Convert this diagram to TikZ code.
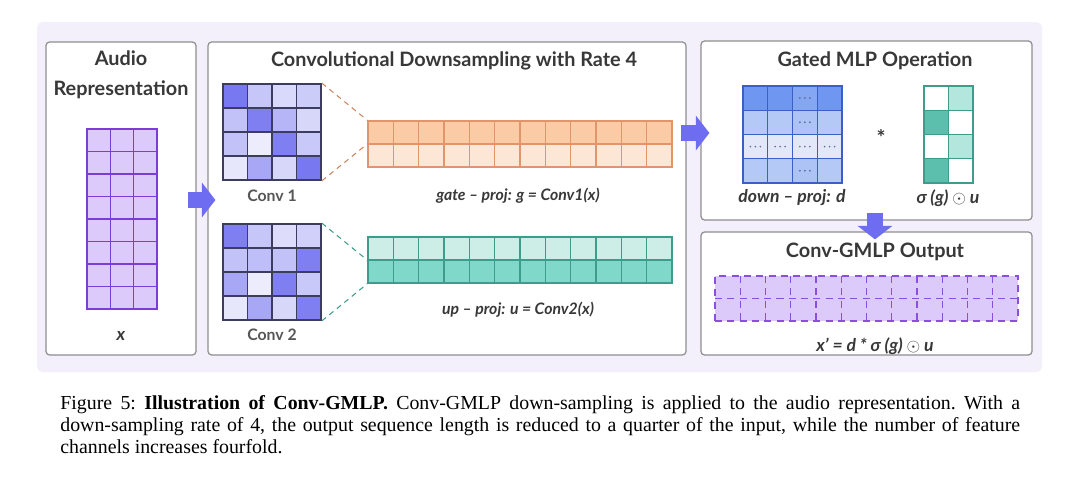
\documentclass[tikz,border=0pt]{standalone}
\usepackage{fontspec}
\setmainfont{Liberation Serif}
\newfontfamily\figfont{Lato}
\usetikzlibrary{arrows.meta,calc}

\definecolor{bgpurple}{HTML}{F3F0FC}
\definecolor{panelgray}{HTML}{8E8E8E}
\definecolor{txtgray}{HTML}{383838}
\definecolor{arrowblue}{HTML}{6E6CF0}
\definecolor{convblue}{HTML}{7878F0}
\definecolor{convline}{HTML}{3C3C5E}
\definecolor{audiofill}{HTML}{DCCBFA}
\definecolor{audioline}{HTML}{7A3ED6}
\definecolor{orangetop}{HTML}{FBCBA5}
\definecolor{orangebot}{HTML}{FCE6D5}
\definecolor{orangeline}{HTML}{E0966A}
\definecolor{tealtop}{HTML}{CCEEE7}
\definecolor{tealbot}{HTML}{80D8CA}
\definecolor{tealline}{HTML}{3E9C8A}
\definecolor{tealdark}{HTML}{5CBFAD}
\definecolor{teallight}{HTML}{B3E6DC}
\definecolor{mlpblue}{HTML}{6F96F0}
\definecolor{mlpmid}{HTML}{B5C9F6}
\definecolor{mlplight}{HTML}{E2E8F8}
\definecolor{mlpline}{HTML}{3A60C8}
\definecolor{dotgray}{HTML}{5A6A9A}
\definecolor{outline}{HTML}{8B4FE0}

\tikzset{
  panel/.style={draw=panelgray, line width=0.7pt, rounded corners=2pt, fill=white},
  ptitle/.style={font=\figfont\bfseries\fontsize{11.3}{17}\selectfont, text=txtgray, align=center},
  plabel/.style={font=\figfont\bfseries\itshape\fontsize{9}{11}\selectfont, text=txtgray},
  clabel/.style={font=\figfont\bfseries\fontsize{9}{11}\selectfont, text=txtgray!85!white},
  bigarrow/.style={arrowblue, line width=0.32cm, -{Triangle[width=0.68cm,length=0.27cm]}},
  zoomline/.style={dash pattern=on 3pt off 2.5pt, line width=0.6pt},
}

\begin{document}
\begin{tikzpicture}[x=0.02cm, y=-0.02cm]
  \useasboundingbox (0,0) rectangle (1080,484);
  \fill[bgpurple, rounded corners=3pt] (37,22) rectangle (1042,372);

  % panels
  \node[panel, minimum width=3cm, minimum height=6.26cm] (audio) at (121,198.5) {};
  \node[panel, minimum width=9.56cm, minimum height=6.26cm] (conv) at (447,198.5) {};
  \node[panel, minimum width=6.62cm, minimum height=3.58cm] (gated) at (866.5,130.5) {};
  \node[panel, minimum width=6.62cm, minimum height=2.46cm] (out) at (866.5,293.5) {};

  \node[ptitle] (audiotitle) at (121,75) {Audio\\Representation};
  \node[ptitle] (convtitle) at (454,61) {Convolutional Downsampling with Rate 4};
  \node[ptitle] (gatedtitle) at (875,61) {Gated MLP Operation};
  \node[ptitle] (outtitle) at (875,252) {Conv-GMLP Output};

  % audio representation
  \foreach \i in {0,...,2}
    \foreach \j in {0,...,7}
      \filldraw[fill=audiofill, draw=audioline, line width=0.8pt] (87+\i*23.33,129+\j*22.5) rectangle ++(23.33,22.5);
  \node[plabel, font=\figfont\bfseries\itshape\fontsize{10}{12}\selectfont] (xin) at (121,336) {x};

  % conv kernels
  \foreach \lv [count=\k from 0] in {100,42,28,38, 45,95,55,30, 45,14,95,40, 18,65,30,100} {
    \pgfmathtruncatemacro\cc{mod(\k,4)}
    \pgfmathtruncatemacro\rr{div(\k,4)}
    \filldraw[fill=convblue!\lv!white, draw=convline, line width=0.8pt] (223+\cc*24.5,84+\rr*24) rectangle ++(24.5,24);
  }
  \foreach \lv [count=\k from 0] in {95,42,25,35, 45,48,45,95, 65,14,95,40, 18,65,30,95} {
    \pgfmathtruncatemacro\cc{mod(\k,4)}
    \pgfmathtruncatemacro\rr{div(\k,4)}
    \filldraw[fill=convblue!\lv!white, draw=convline, line width=0.8pt] (223+\cc*24.5,224+\rr*24) rectangle ++(24.5,24);
  }
  \node[draw=convline, line width=1pt, minimum width=1.96cm, minimum height=1.92cm] (conv1) at (272,132) {};
  \node[draw=convline, line width=1pt, minimum width=1.96cm, minimum height=1.92cm] (conv2) at (272,272) {};
  \node[clabel] (conv1lab) at (272,196) {Conv 1};
  \node[clabel] (conv2lab) at (272,335) {Conv 2};

  % projections
  \foreach \i in {0,...,11} {
    \filldraw[fill=orangetop, draw=orangeline, line width=0.8pt] (368+\i*25.33,121) rectangle ++(25.33,23);
    \filldraw[fill=orangebot, draw=orangeline, line width=0.8pt] (368+\i*25.33,144) rectangle ++(25.33,23);
    \filldraw[fill=tealtop, draw=tealline, line width=0.8pt] (368+\i*25.33,237) rectangle ++(25.33,23);
    \filldraw[fill=tealbot, draw=tealline, line width=0.8pt] (368+\i*25.33,260) rectangle ++(25.33,23);
  }
  \node[draw=orangeline, line width=1pt, minimum width=6.08cm, minimum height=0.92cm] (gate) at (520,144) {};
  \node[draw=tealline, line width=1pt, minimum width=6.08cm, minimum height=0.92cm] (up) at (520,260) {};
  \draw[zoomline, orangeline!90!black] (conv1.north east) -- (gate.north west);
  \draw[zoomline, orangeline!90!black] (conv1.south east) -- (gate.west);
  \draw[zoomline, tealline] (conv2.north east) -- (up.west);
  \draw[zoomline, tealline] (conv2.south east) -- (up.south west);
  \node[plabel] (gatelab) at (518,196) {gate – proj: g = Conv1(x)};
  \node[plabel] (uplab) at (518,310) {up – proj: u = Conv2(x)};

  % gated mlp
  \foreach \cl [count=\k from 0] in {mlpblue,mlpblue,mlpblue!85!white,mlpblue,
      mlpmid,mlpmid,mlpmid!88!mlpblue,mlpmid, mlplight,mlplight,mlplight,mlplight,
      mlpmid,mlpmid,mlpmid!88!mlpblue,mlpmid} {
    \pgfmathtruncatemacro\cc{mod(\k,4)}
    \pgfmathtruncatemacro\rr{div(\k,4)}
    \filldraw[fill=\cl, draw=mlpline, line width=0.8pt] (743+\cc*24.75,86+\rr*24.25) rectangle ++(24.75,24.25);
  }
  \foreach \j in {0,1,3}
    \foreach \d in {-5,0,5}
      \fill[dotgray] (743+2.5*24.75+\d,86+\j*24.25+12) circle (0.55pt);
  \foreach \i in {0,...,3}
    \foreach \d in {-5,0,5}
      \fill[dotgray] (743+\i*24.75+12.4+\d,86+2.5*24.25) circle (0.55pt);
  \node[draw=mlpline, line width=1pt, minimum width=1.98cm, minimum height=1.94cm] (dmat) at (792.5,134.5) {};
  \node[font=\figfont\bfseries\fontsize{12}{12}\selectfont, text=txtgray] (times) at (881,138) {*};
  \foreach \cl [count=\k from 0] in {white,teallight, tealdark,white, white,teallight, tealdark,white} {
    \pgfmathtruncatemacro\cc{mod(\k,2)}
    \pgfmathtruncatemacro\rr{div(\k,2)}
    \filldraw[fill=\cl, draw=tealline, line width=0.8pt] (924+\cc*24.5,86+\rr*24.25) rectangle ++(24.5,24.25);
  }
  \node[draw=tealline, line width=1pt, minimum width=0.98cm, minimum height=1.94cm] (umat) at (948.5,134.5) {};
  \node[plabel, font=\figfont\bfseries\itshape\fontsize{10}{12}\selectfont] (dlab) at (792,198) {down – proj: d};
  \node[plabel, font=\figfont\bfseries\itshape\fontsize{10}{12}\selectfont] (glab) at (948,198) {σ (g) $\odot$ u};

  % output
  \fill[audiofill] (715,276) rectangle (1018,321);
  \foreach \i in {1,...,11}
    \draw[outline, dash pattern=on 4pt off 3pt, line width=0.7pt] (715+\i*25.25,276) -- ++(0,45);
  \draw[outline, dash pattern=on 4pt off 3pt, line width=0.7pt] (715,298.5) -- (1018,298.5);
  \node[draw=outline, dash pattern=on 4pt off 3pt, line width=1.1pt, minimum width=6.06cm, minimum height=0.9cm] (xout) at (866.5,298.5) {};
  \node[plabel, font=\figfont\bfseries\itshape\fontsize{10}{12}\selectfont] (xlab) at (875,346) {x’ = d * σ (g) $\odot$ u};

  % arrows
  \coordinate (c2) at (conv.east |- gated.west);
  \draw[bigarrow] ($(audio.east)+(-9,1.5)$) -- ($(conv.west)+(8,1.5)$);
  \draw[bigarrow] ($(c2)+(-6,2.5)$) -- ($(gated.west)+(9,2.5)$);
  \draw[bigarrow] ($(gated.south)+(8.5,-8)$) -- ($(out.north)+(8.5,8)$);

  \node[anchor=north west, text width=19.2cm, align=justify, inner sep=0pt, font=\fontsize{11.3}{12.5}\selectfont] (caption) at (60,395) {\frenchspacing Figure 5: \textbf{Illustration of Conv-GMLP.} Conv-GMLP down-sampling is applied to the audio representation. With a\linebreak down-sampling rate of 4, the output sequence length is reduced to a quarter of the input, while the number of feature\linebreak channels increases fourfold.};
\end{tikzpicture}
\end{document}
